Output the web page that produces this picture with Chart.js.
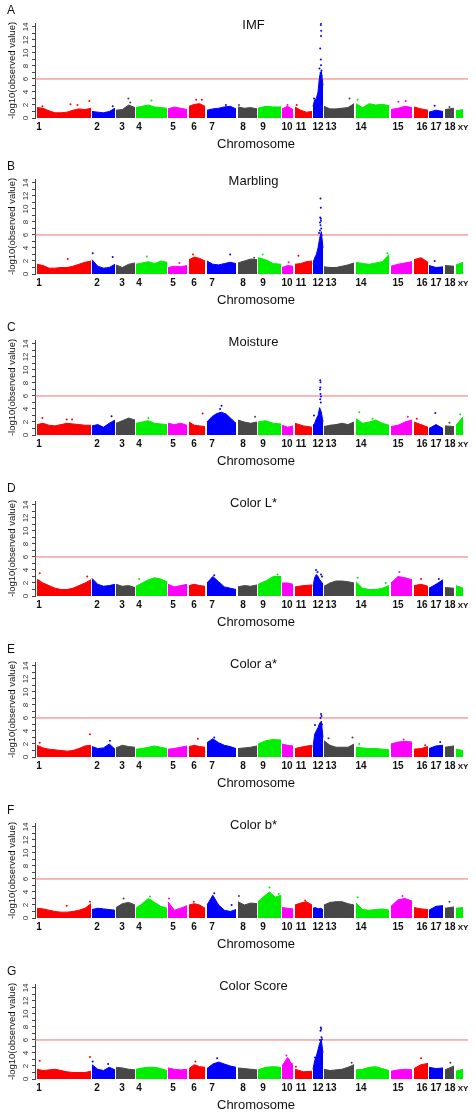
<!DOCTYPE html>
<html>
<head>
<meta charset="utf-8">
<script src="https://cdn.jsdelivr.net/npm/chart.js@4.4.1/dist/chart.umd.min.js"></script>
<style>
  html, body { margin: 0; padding: 0; background: #fff; width: 476px; height: 1112px; overflow: hidden; }
  .panel { position: absolute; left: 0; width: 476px; height: 152px; }
</style>
</head>
<body>
<script>
// chromosome layout along the genome axis (arbitrary units)
const chrNames = ['1','2','3','4','5','6','7','8','9','10','11','12','13','14','15','16','17','18','XY'];
const chrStart = [2, 57, 81, 101, 133, 154, 172, 203, 223, 247, 260, 278, 289, 321, 356, 379, 394, 410, 421];
const chrEnd   = [56, 80, 100, 132, 152, 170, 201, 222, 246, 258, 277, 288, 319, 354, 377, 393, 408, 419, 428];
const chrLabelAt = [4, 62, 87, 104, 138, 159, 177, 208, 228, 252, 266, 283, 296, 326, 363, 387, 401, 415, 428];
const chrColors = ['#ff0000', '#0000ff', '#474747', '#00ee00', '#ff00ff'];
const threshold = 6;

const panelLetters = ['A', 'B', 'C', 'D', 'E', 'F', 'G'];
const panelTitles = ['IMF', 'Marbling', 'Moisture', 'Color L*', 'Color a*', 'Color b*', 'Color Score'];

// top of the dense band of SNPs, per chromosome (-log10 p)
const imfBand = [
  [1.6, 1.5, 1.1, 0.8, 0.8, 0.9, 1.2, 1.4, 1.3, 1.5], [1.0, 0.9, 0.8, 1.0, 1.5], [1.2, 1.3, 2.0, 1.6],
  [1.6, 1.8, 2.0, 1.7, 1.6, 1.5], [1.4, 1.7, 1.5, 1.3], [1.8, 2.1, 2.2, 1.8], [1.2, 1.4, 1.5, 1.7, 1.8, 1.4],
  [1.7, 1.5, 1.6, 1.4], [1.5, 1.8, 1.7, 1.7], [1.4, 1.8, 1.3], [1.7, 1.2, 0.9, 1.0],
  [1.8, 2.8, 3.0, 4.0, 6.5, 7.2, 5.0], [1.8, 1.4, 1.4, 1.5, 1.6, 2.2], [2.2, 1.6, 2.2, 2.0, 2.1, 1.9],
  [1.3, 1.5, 1.8, 1.6], [1.7, 1.4, 1.2], [0.9, 1.2, 1.0], [1.3, 1.5], [1.1, 1.3]
];
// single SNPs standing out: [chromosome, position within chromosome, -log10 p]
const imfPeaks = [
  [1, 0.1, 1.8], [1, 0.62, 2.1], [1, 0.75, 2.0], [1, 0.97, 2.6], [2, 0.9, 1.8], [3, 0.65, 3.0], [3, 0.75, 2.4],
  [4, 0.5, 2.7], [6, 0.45, 2.8], [6, 0.8, 2.8], [7, 0.65, 2.0], [8, 0.05, 2.0], [10, 0.5, 2.0], [11, 0.1, 2.0],
  [12, 0.8, 14.6], [12, 0.78, 14.3], [12, 0.82, 13.4], [12, 0.8, 12.6], [12, 0.72, 10.7], [12, 0.78, 9.0],
  [12, 0.8, 8.1], [12, 0.65, 7.6], [12, 0.85, 7.3], [12, 0.75, 6.9], [12, 0.85, 6.5], [12, 0.1, 3.0],
  [13, 0.85, 3.0], [14, 0.05, 2.8], [15, 0.35, 2.5], [15, 0.7, 2.6], [17, 0.4, 1.9], [18, 0.5, 1.7]
];

const marblingBand = [
  [1.5, 1.3, 0.9, 0.9, 1.0, 1.0, 1.2, 1.5, 1.8, 2.0], [2.2, 1.2, 0.9, 1.0, 1.5], [1.4, 1.0, 1.5, 1.7],
  [1.5, 1.7, 1.9, 1.6, 2.0, 1.8], [1.0, 1.2, 1.1, 1.3], [2.2, 2.6, 2.4, 2.0], [2.0, 1.5, 1.4, 1.6, 1.8, 1.6],
  [1.7, 2.0, 2.3, 2.2], [2.5, 2.2, 1.6, 1.5], [1.0, 1.3, 1.2], [1.5, 1.6, 1.9, 2.0],
  [1.5, 2.5, 3.0, 4.0, 5.5, 6.5, 4.0], [1.1, 1.0, 1.0, 1.2, 1.4, 1.7], [1.8, 1.6, 1.5, 1.7, 1.9, 3.0],
  [1.2, 1.5, 1.7, 1.9], [2.2, 2.5, 1.8], [1.3, 1.0, 1.1], [1.3, 1.2], [1.4, 1.8]
];
const marblingPeaks = [
  [1, 0.57, 2.3], [2, 0.03, 3.2], [2, 0.9, 2.6], [4, 0.35, 2.7], [5, 0.6, 1.7], [6, 0.25, 3.0], [7, 0.8, 3.0],
  [8, 0.85, 2.5], [9, 0.2, 3.0], [10, 0.6, 1.8], [11, 0.2, 2.8],
  [12, 0.75, 11.6], [12, 0.78, 10.2], [12, 0.72, 8.7], [12, 0.78, 8.5], [12, 0.8, 8.2], [12, 0.7, 7.9],
  [12, 0.75, 7.5], [12, 0.82, 7.0], [12, 0.7, 6.7], [12, 0.6, 6.3], [12, 0.85, 6.0], [12, 0.1, 2.0],
  [14, 0.95, 3.2], [17, 0.4, 2.0]
];

const moistureBand = [
  [1.6, 1.8, 1.5, 1.4, 1.6, 1.8, 1.7, 1.6, 1.5, 1.5], [1.4, 1.6, 1.2, 1.8, 2.3], [1.8, 2.2, 2.6, 2.3],
  [1.8, 2.0, 2.2, 1.8, 1.7, 1.6], [1.8, 1.6, 1.8, 1.5], [2.0, 1.5, 1.4, 1.3], [2.0, 2.8, 3.3, 3.5, 3.2, 2.5, 1.8],
  [2.3, 2.0, 1.8, 2.0], [2.0, 2.2, 1.8, 1.7], [1.5, 1.2, 1.4], [1.8, 1.4, 1.2],
  [1.5, 1.8, 2.5, 3.0, 4.2, 3.5, 2.0], [1.3, 1.5, 1.6, 1.8, 1.6, 2.0], [2.5, 1.8, 2.0, 2.3, 1.8, 1.5],
  [1.3, 1.5, 2.0, 2.3], [2.0, 1.6, 1.2], [1.0, 1.6, 1.0], [1.4, 1.3], [1.5, 2.8]
];
const moisturePeaks = [
  [1, 0.1, 2.6], [1, 0.55, 2.4], [1, 0.65, 2.4], [2, 0.85, 2.9], [4, 0.4, 2.6], [6, 0.85, 3.3],
  [7, 0.5, 4.5], [7, 0.45, 4.0], [8, 0.9, 2.8],
  [12, 0.72, 8.4], [12, 0.75, 8.1], [12, 0.73, 7.3], [12, 0.7, 7.0], [12, 0.75, 6.3], [12, 0.8, 5.9],
  [12, 0.72, 5.5], [12, 0.78, 5.0], [12, 0.1, 3.0],
  [14, 0.1, 3.5], [14, 0.5, 2.5], [15, 0.8, 2.8], [16, 0.2, 2.5], [17, 0.45, 3.4], [18, 0.5, 1.9], [19, 0.6, 3.2]
];

const colorLBand = [
  [2.6, 2.0, 1.6, 1.2, 1.0, 1.0, 1.2, 1.6, 2.0, 2.5], [2.7, 1.8, 1.5, 1.6, 1.8], [1.8, 1.5, 1.6, 1.3],
  [1.5, 2.0, 2.5, 2.8, 2.6, 2.2], [1.8, 1.4, 1.6, 1.8], [1.6, 1.8, 1.6, 1.5], [2.0, 3.0, 2.2, 1.4, 1.2, 1.0],
  [1.4, 1.6, 1.5, 1.7], [1.8, 2.3, 3.0, 3.0], [2.0, 2.0, 1.8], [1.4, 1.6, 1.7],
  [1.5, 2.8, 3.3, 3.0, 2.5, 2.2, 1.8], [1.5, 2.0, 2.3, 2.3, 2.2, 2.0], [2.2, 1.2, 1.0, 1.0, 1.2, 1.6],
  [2.0, 3.0, 2.8, 2.5], [1.6, 1.8, 1.5], [1.2, 1.8, 2.5], [1.3, 1.2], [1.6, 1.2]
];
const colorLPeaks = [
  [1, 0.05, 3.5], [1, 0.93, 3.0], [4, 0.1, 2.6], [7, 0.25, 3.2], [9, 0.85, 3.3],
  [12, 0.3, 4.0], [12, 0.45, 3.7], [12, 0.8, 3.3], [12, 0.9, 3.0],
  [14, 0.05, 2.8], [14, 0.9, 2.0], [15, 0.4, 3.7], [16, 0.5, 2.6], [17, 0.7, 2.6]
];

const colorABand = [
  [1.8, 1.4, 1.2, 1.1, 1.0, 0.9, 1.0, 1.3, 1.7, 1.8], [1.6, 1.3, 1.4, 2.0, 1.2], [1.4, 1.8, 1.6, 1.5],
  [1.2, 1.3, 1.5, 1.7, 1.5, 1.3], [1.2, 1.3, 1.5, 1.7], [1.6, 1.8, 1.6, 1.5], [2.2, 2.8, 2.2, 1.8, 1.6, 1.3],
  [1.3, 1.4, 1.5, 1.7], [2.0, 2.5, 2.7, 2.6], [2.0, 1.8, 1.7], [1.3, 1.6, 1.8],
  [1.5, 3.5, 4.0, 4.5, 5.2, 5.5, 3.0], [2.5, 1.8, 1.5, 1.5, 1.5, 2.0], [1.5, 1.4, 1.3, 1.3, 1.2, 1.1],
  [2.0, 2.3, 2.4, 2.3], [1.2, 1.3, 1.6], [1.3, 1.7, 1.8], [1.5, 1.7], [1.2, 1.0]
];
const colorAPeaks = [
  [1, 0.05, 2.2], [1, 0.98, 3.5], [2, 0.78, 2.5], [6, 0.55, 2.8], [7, 0.25, 3.0],
  [12, 0.8, 6.6], [12, 0.85, 6.3], [12, 0.75, 6.0], [12, 0.2, 4.9], [12, 0.9, 5.0],
  [13, 0.15, 2.9], [13, 0.95, 3.0], [14, 0.1, 2.0], [15, 0.6, 2.7], [16, 0.8, 1.8], [17, 0.8, 2.3]
];

const colorBBand = [
  [1.5, 1.4, 1.2, 1.0, 0.9, 0.9, 1.0, 1.2, 1.5, 2.2], [1.3, 1.5, 1.4, 1.3, 1.2], [1.6, 2.2, 2.4, 2.0],
  [1.5, 2.2, 3.0, 2.4, 1.8, 1.5], [2.5, 1.2, 1.5, 1.9], [2.0, 2.2, 2.0, 1.5], [2.0, 3.5, 2.0, 1.2, 1.0, 1.3],
  [2.5, 2.0, 2.3, 2.2], [2.5, 3.3, 4.0, 3.2, 3.5], [1.6, 1.5, 1.4], [2.0, 2.3, 2.5, 2.0],
  [1.5, 1.6, 1.4, 1.5, 1.3], [2.0, 2.4, 2.5, 2.5, 2.2, 2.0], [2.3, 1.3, 1.2, 1.3, 1.4, 1.2],
  [1.8, 2.8, 3.0, 2.6], [1.6, 1.4, 1.3], [1.2, 1.8, 1.9], [1.5, 1.7], [1.5, 1.6]
];
const colorBPeaks = [
  [1, 0.55, 1.9], [1, 0.98, 2.5], [3, 0.4, 3.0], [4, 0.45, 3.3], [5, 0.05, 3.0], [6, 0.3, 2.5],
  [7, 0.25, 3.8], [7, 0.85, 2.0], [8, 0.05, 3.4], [9, 0.5, 4.7], [9, 0.9, 3.7], [11, 0.6, 2.7],
  [14, 0.05, 3.2], [15, 0.55, 3.4], [18, 0.5, 2.5]
];

const colorScoreBand = [
  [1.5, 1.3, 1.4, 1.5, 1.3, 1.1, 1.0, 1.0, 1.0, 1.2], [2.2, 1.5, 1.3, 1.8, 1.4], [1.8, 1.7, 1.5, 1.4],
  [1.5, 1.7, 1.8, 1.8, 1.6, 1.3], [1.7, 1.5, 1.4, 1.5], [1.6, 2.2, 1.9, 1.8], [1.6, 2.3, 2.6, 2.3, 2.0, 1.8],
  [1.7, 1.6, 1.5, 1.4], [1.4, 1.8, 1.9, 1.8], [2.0, 3.3, 2.0], [1.5, 1.1, 1.2],
  [1.5, 2.8, 3.5, 4.5, 5.5, 6.0, 4.0], [1.5, 1.3, 1.4, 1.5, 1.8, 2.2], [1.4, 1.5, 1.8, 1.9, 1.6, 1.3],
  [1.2, 1.4, 1.5, 1.4], [1.6, 2.2, 2.4], [1.8, 1.6, 1.7], [1.4, 2.0], [1.2, 1.5]
];
const colorScorePeaks = [
  [1, 0.05, 2.8], [1, 0.98, 3.4], [2, 0.03, 2.7], [2, 0.7, 2.3], [6, 0.4, 2.7], [7, 0.35, 3.2],
  [10, 0.4, 3.6], [10, 0.6, 3.0], [10, 0.9, 2.3], [11, 0.05, 1.9],
  [12, 0.78, 7.9], [12, 0.82, 7.7], [12, 0.75, 7.4], [12, 0.85, 6.4], [12, 0.9, 6.1], [12, 0.7, 6.0], [12, 0.2, 3.3],
  [13, 0.92, 2.5], [16, 0.5, 3.2], [18, 0.6, 2.5]
];

const panelBands = [imfBand, marblingBand, moistureBand, colorLBand, colorABand, colorBBand, colorScoreBand];
const panelPeaks = [imfPeaks, marblingPeaks, moisturePeaks, colorLPeaks, colorAPeaks, colorBPeaks, colorScorePeaks];
const panelZero = [118, 274, 435, 596, 757, 918, 1079];   // page y of the 0 line in each panel

const FONT = '"Liberation Sans", Arial, Helvetica, sans-serif';
const xMax = 433;

const textPlugin = {
  id: 'texts',
  afterDraw(chart, args, opts) {
    const { ctx, chartArea: ca, scales: { x, y } } = chart;
    ctx.save();
    ctx.fillStyle = '#111';
    ctx.textBaseline = 'middle';

    ctx.font = '12px ' + FONT;
    ctx.textAlign = 'left';
    ctx.fillText(opts.letter, 7, ca.bottom - 107);

    ctx.font = '13px ' + FONT;
    ctx.textAlign = 'center';
    ctx.fillText(opts.title, (ca.left + ca.right) / 2 + 2, y.getPixelForValue(14) - 1);

    // rotated tick labels
    ctx.font = '8px ' + FONT;
    ctx.fillStyle = '#333';
    for (let v = 0; v <= 14; v += 2) {
      ctx.save();
      ctx.translate(26, y.getPixelForValue(v));
      ctx.rotate(-Math.PI / 2);
      ctx.fillText(String(v), 0, 0);
      ctx.restore();
    }
    ctx.fillStyle = '#111';
    ctx.font = '9.5px ' + FONT;
    ctx.save();
    ctx.translate(12, (ca.top + ca.bottom) / 2);
    ctx.rotate(-Math.PI / 2);
    ctx.fillText('-log10(observed value)', 0, 0);
    ctx.restore();

    // chromosome labels
    chrNames.forEach((n, i) => {
      ctx.font = (n === 'XY' ? 'bold 8px ' : 'bold 10px ') + FONT;
      ctx.fillText(n, x.getPixelForValue(chrLabelAt[i]), ca.bottom + 9.5);
    });
    ctx.font = '13px ' + FONT;
    ctx.fillText('Chromosome', 256, ca.bottom + 26);
    ctx.restore();
  }
};

panelTitles.forEach((title, p) => {
  const div = document.createElement('div');
  div.className = 'panel';
  div.style.top = (panelZero[p] - 118) + 'px';
  const canvas = document.createElement('canvas');
  canvas.width = 476;
  canvas.height = 152;
  div.appendChild(canvas);
  document.body.appendChild(div);

  const datasets = [];
  datasets.push({
    data: [{ x: 0, y: threshold }, { x: xMax, y: threshold }],
    showLine: true, borderColor: '#f07070', borderWidth: 1, pointRadius: 0, order: 10
  });
  panelBands[p].forEach((vals, i) => {
    const col = chrColors[i % 5];
    const w = chrEnd[i] - chrStart[i];
    datasets.push({
      data: vals.map((v, k) => ({ x: chrStart[i] + w * k / (vals.length - 1), y: v })),
      showLine: true, fill: 'origin', tension: 0,
      backgroundColor: col, borderColor: col, borderWidth: 1, pointRadius: 0, order: 2
    });
  });
  const pk = panelPeaks[p];
  datasets.push({
    data: pk.map(([c, f, v]) => ({ x: chrStart[c - 1] + (chrEnd[c - 1] - chrStart[c - 1]) * f, y: v })),
    backgroundColor: pk.map(([c]) => chrColors[(c - 1) % 5]),
    borderWidth: 0, pointRadius: 1, order: 1
  });

  new Chart(canvas, {
    type: 'scatter',
    data: { datasets },
    options: {
      responsive: false,
      animation: false,
      layout: { padding: { top: 23, bottom: 34, left: 0, right: 8 } },
      plugins: {
        legend: { display: false },
        tooltip: { enabled: false },
        texts: { letter: panelLetters[p], title }
      },
      scales: {
        x: { type: 'linear', min: 0, max: xMax, display: false },
        y: {
          min: 0, max: 14.6,
          afterFit: s => { s.width = 35; },
          ticks: { stepSize: 1, includeBounds: false, display: false },
          grid: { drawOnChartArea: false, drawTicks: true, tickLength: 3, color: '#444' },
          border: { display: true, color: '#444', width: 1 }
        }
      }
    },
    plugins: [textPlugin]
  });
});
</script>
</body>
</html>
